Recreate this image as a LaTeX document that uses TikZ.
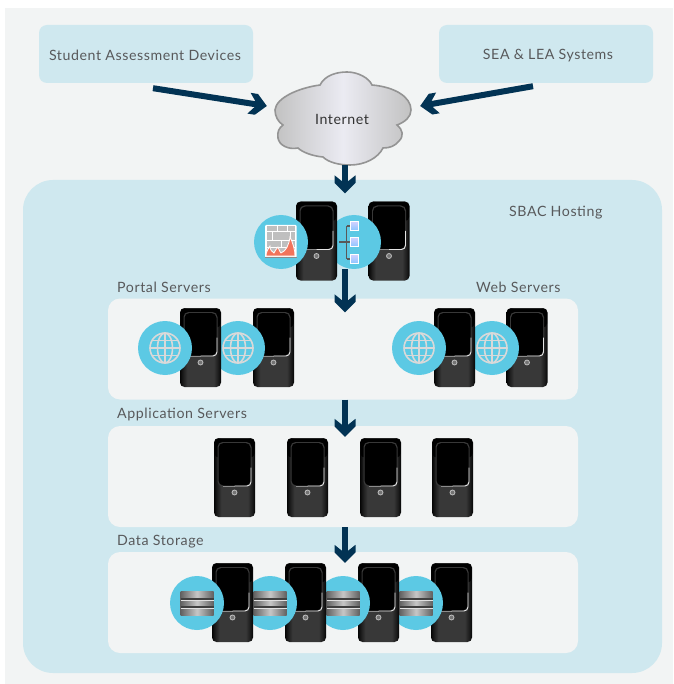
\documentclass[tikz,border=0pt]{standalone}
\usepackage{fontspec}
\setmainfont{Lato}[LetterSpace=4]
\usetikzlibrary{arrows.meta,shapes.geometric}
\definecolor{pagebg}{HTML}{F2F4F4}
\definecolor{panelblue}{HTML}{CFE8EF}
\definecolor{iconblue}{HTML}{5CC9E4}
\definecolor{navy}{HTML}{023354}
\definecolor{labelgrey}{HTML}{58595B}
\definecolor{flamered}{HTML}{F2745C}
\pgfdeclarearrow{
  name=Chev,
  setup code={\pgfarrowssettipend{18pt}\pgfarrowssetlineend{8pt}\pgfarrowssetvisualbackend{0pt}\pgfarrowssetbackend{0pt}},
  drawing code={
    \pgfpathmoveto{\pgfqpoint{18pt}{0pt}}
    \pgfpathlineto{\pgfqpoint{7.5pt}{10.5pt}}
    \pgfpathlineto{\pgfqpoint{0pt}{10.5pt}}
    \pgfpathlineto{\pgfqpoint{6pt}{3pt}}
    \pgfpathlineto{\pgfqpoint{6pt}{-3pt}}
    \pgfpathlineto{\pgfqpoint{0pt}{-10.5pt}}
    \pgfpathlineto{\pgfqpoint{7.5pt}{-10.5pt}}
    \pgfpathclose
    \pgfusepathqfill
  }
}
\pgfdeclarehorizontalshading{srvshade}{100bp}{
  rgb(0bp)=(.02,.02,.02); rgb(25bp)=(.02,.02,.02); rgb(29bp)=(.12,.12,.12); rgb(34bp)=(.22,.22,.22);
  rgb(66bp)=(.22,.22,.22); rgb(71bp)=(.12,.12,.12); rgb(75bp)=(.02,.02,.02); rgb(100bp)=(.02,.02,.02)}
\pgfdeclarehorizontalshading{diskshade}{100bp}{
  rgb(0bp)=(.38,.38,.38); rgb(25bp)=(.38,.38,.38); rgb(50bp)=(.78,.78,.78); rgb(75bp)=(.38,.38,.38); rgb(100bp)=(.38,.38,.38)}
\tikzset{
  x=1pt,y=-1pt,
  lbl/.style={text=labelgrey,font=\fontsize{14.2}{17}\selectfont,inner sep=0pt},
  blockbox/.style={fill=panelblue,rounded corners=8pt,inner sep=0pt,minimum width=214pt,minimum height=58pt},
  rowpanel/.style={fill=pagebg,rounded corners=12pt,inner sep=0pt,minimum width=470pt,minimum height=101pt},
  flow/.style={draw=navy,line width=6pt,-{Chev}},
  srvbody/.style={rounded corners=4.5pt,minimum width=41pt,minimum height=79pt,inner sep=0pt,shading=srvshade},
  badge/.style={circle,fill=iconblue,minimum size=54pt,inner sep=0pt},
  pics/srv/.style={code={
    \node[srvbody] (-body) at (0,0) {};
    \fill[black,rounded corners=4pt] (-20,-39) rectangle (20,-20);
    \fill[black!78,rounded corners=5pt] (-17,-35.5) rectangle (17,9);
    \fill[black,rounded corners=5pt] (-16,-34.5) rectangle (16,8);
    \draw[black!45,line width=.8pt] (-12,8.5) -- (0,8.5);
    \draw[white!90!black,line width=.9pt,rounded corners=4pt] (0,8.5) -- (16.5,8.5) -- (16.5,-10);
    \node[circle,draw=black!25,fill=black!55,line width=.8pt,minimum size=5pt,inner sep=0pt] (-btn) at (0,15) {};
  }},
  pics/globeicon/.style={code={
    \node[badge] (-disc) at (0,0) {};
    \begin{scope}[draw=black!15,line width=1.6pt]
      \draw (0,0) circle[radius=15];
      \draw (0,0) ellipse[x radius=7.5,y radius=15];
      \draw (0,-15) -- (0,15);
      \draw (-15,0) -- (15,0);
      \draw (-13,-7.5) -- (13,-7.5);
      \draw (-13,7.5) -- (13,7.5);
    \end{scope}
  }},
  pics/diskicon/.style={code={
    \node[badge] (-disc) at (0,0) {};
    \path[shading=diskshade] (-16.5,-12) rectangle (16.5,12.3);
    \draw[black!75,line width=1.7pt] (-16.5,-4.2) -- (16.5,-4.2) (-16.5,4) -- (16.5,4);
    \draw[black!12,line width=.5pt] (-16.5,-3) -- (16.5,-3) (-16.5,5.2) -- (16.5,5.2);
  }},
  pics/wallicon/.style={code={
    \node[badge] (-disc) at (0,0) {};
    \fill[white,rounded corners=1pt] (-16,-17) rectangle (15.5,15.5);
    \fill[black!25] (-14.5,-15.5) rectangle (14,12);
    \begin{scope}[draw=white,line width=1pt]
      \draw (-14.5,-10) -- (14,-10);
      \draw (-14.5,-1) -- (14,-1);
      \draw (-14.5,6) -- (14,6);
      \draw (-4,-15.5) -- (-4,-10) (6,-15.5) -- (6,-10);
      \draw (-9,-10) -- (-9,-1) (9,-10) -- (9,-1);
      \draw (0,-1) -- (0,6);
    \end{scope}
    \draw[white,line width=.8pt,fill=flamered] (-15,14) .. controls (-15,10) and (-13,7) .. (-11,4)
      .. controls (-11,8) and (-9,10) .. (-7,11)
      .. controls (-6,9) and (-5,7) .. (-3,5)
      .. controls (-2,8) and (-1,10) .. (0,11)
      .. controls (5,9) and (8,3) .. (9,-5)
      .. controls (12,1) and (14,8) .. (14,14) -- cycle;
    \draw[black!45,line width=.7pt] (-16,15) -- (15.5,15);
  }},
  pics/treeicon/.style={code={
    \node[badge] (-disc) at (0,0) {};
    \draw[black!65,line width=1.2pt] (-15,0) -- (-7.5,0) (-7.5,-16) -- (-7.5,17) (-7.5,-16) -- (0,-16) (-7.5,0) -- (0,0) (-7.5,17) -- (0,17);
    \foreach \t in {-16,0,17}{
      \shade[draw=white,line width=.8pt,top color=blue!18!white,bottom color=blue!50!cyan!45!white] (-3.5,\t-4.2) rectangle (4.5,\t+4.2);
    }
  }},
}
\begin{document}
\begin{tikzpicture}
\useasboundingbox (0,0) rectangle (673,684);
\fill[pagebg] (5,8) rectangle (673,684);
\node[blockbox] (devices) at (146,54) {};
\node[blockbox] (systems) at (546,54) {};
\fill[panelblue,rounded corners=30pt] (23,180) rectangle (662,673);
\node[inner sep=0pt,minimum width=639pt,minimum height=1pt] (hosting) at (342.5,180) {};
\node[rowpanel] (portal) at (343,349) {};
\node[rowpanel] (app) at (343,476.5) {};
\node[rowpanel] (data) at (343,602.5) {};
\node[lbl] (devlabel) at (145,55.5) {Student Assessment Devices};
\node[lbl] (syslabel) at (548,55.5) {SEA \& LEA Systems};
\node[lbl,anchor=west] (hostlabel) at (509,213) {SBAC Hosting};
\node[lbl,anchor=west] (portallabel) at (117,287) {Portal Servers};
\node[lbl,anchor=west] (weblabel) at (476,287) {Web Servers};
\node[lbl,anchor=west] (applabel) at (117,414) {Application Servers};
\node[lbl,anchor=west] (datalabel) at (117,542) {Data Storage};
% cloud
\node[inner sep=0pt,minimum width=132pt,minimum height=94pt] (cloud) at (345,118) {};
\draw[draw=black!42,line width=1.6pt,left color=black!24,right color=black!24,middle color=blue!3!white!95!black]
  (275,110) .. controls (276,98) and (298,88) .. (320,85)
  .. controls (325,75) and (337,72) .. (347,72)
  .. controls (358,72) and (369,78) .. (372,85)
  .. controls (395,87) and (411,97) .. (411,110)
  .. controls (411,117) and (405,122) .. (397,125)
  .. controls (403,130) and (404,136) .. (399,141)
  .. controls (395,146) and (390,148) .. (383,148)
  .. controls (378,158) and (365,165) .. (350,165)
  .. controls (338,165) and (328,162) .. (323,157)
  .. controls (312,156) and (302,152) .. (298,148)
  .. controls (288,150) and (279,145) .. (278,138)
  .. controls (277,132) and (279,128) .. (283,125)
  .. controls (278,122) and (275,116) .. (275,110) -- cycle;
\node[lbl,text=black!80] (internetlabel) at (342,119.5) {Internet};
% connectors sit below the server groups
\coordinate (hubfoot) at (345,269);
\draw[flow] ([xshift=7pt,yshift=-5pt]devices.south) -- ([xshift=-12pt,yshift=12pt]cloud.west);
\draw[flow] ([xshift=-13pt,yshift=-3pt]systems.south) -- ([xshift=9pt,yshift=12pt]cloud.east);
\draw[flow,shorten >=-14pt] (cloud.south) -- (cloud.south |- hosting.north);
\draw[flow,shorten >=-14pt] (hubfoot) -- (hubfoot |- portal.north);
\draw[flow,shorten >=-11pt] (cloud.south |- portal.south) -- (cloud.south |- app.north);
\draw[flow,shorten >=-11pt] (cloud.south |- app.south) -- (cloud.south |- data.north);
% servers and icons, right to left so that each server covers the next icon
\pic (t2) at (389,241) {srv};
\pic at (354,242) {treeicon};
\pic (t1) at (316.5,241) {srv};
\pic at (281,242) {wallicon};
\pic (p2) at (273.5,347.5) {srv};
\pic at (238,348) {globeicon};
\pic (p1) at (200.5,347.5) {srv};
\pic at (165,348) {globeicon};
\pic (w2) at (527,347.5) {srv};
\pic at (492,348) {globeicon};
\pic (w1) at (454.5,347.5) {srv};
\pic at (419,348) {globeicon};
\foreach \n/\cx in {a1/234.5,a2/307.5,a3/380.5,a4/452.5}{\pic (\n) at (\cx,477.5) {srv};}
\pic (d4) at (451.5,602.5) {srv};
\pic at (416,603) {diskicon};
\pic (d3) at (378.5,602.5) {srv};
\pic at (343,603) {diskicon};
\pic (d2) at (305.5,602.5) {srv};
\pic at (270,603) {diskicon};
\pic (d1) at (232.5,602.5) {srv};
\pic at (197,603) {diskicon};
\end{tikzpicture}
\end{document}
